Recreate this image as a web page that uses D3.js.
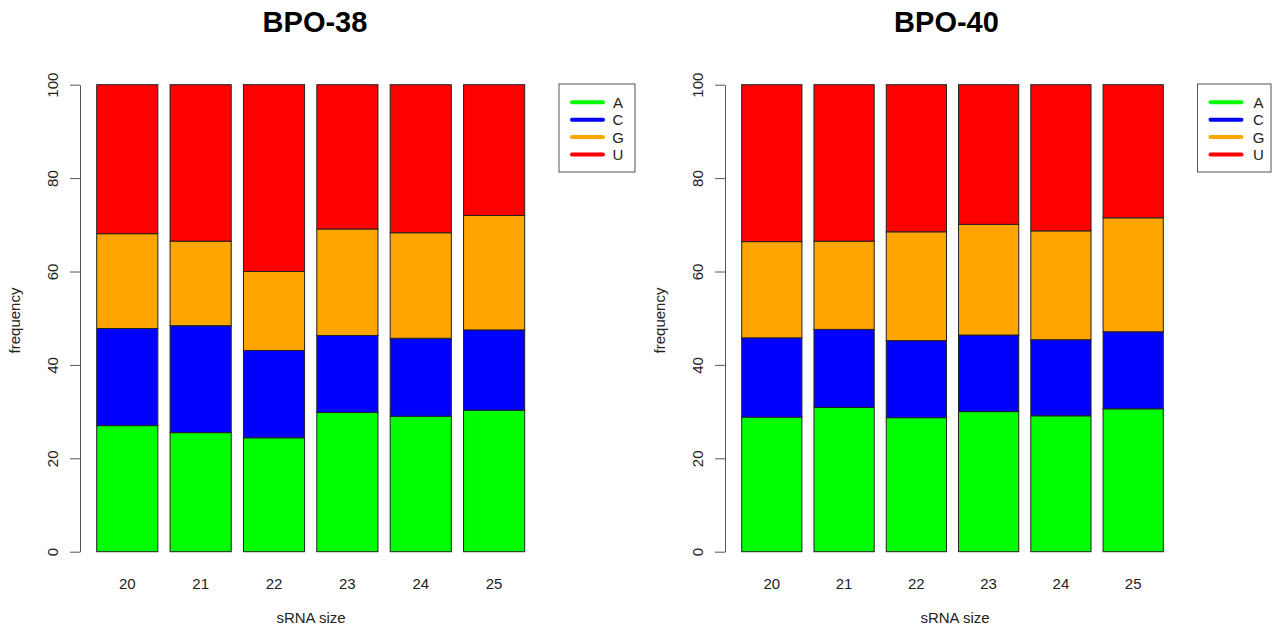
<!DOCTYPE html>
<html><head><meta charset="utf-8">
<script src="https://cdn.jsdelivr.net/npm/d3@7"></script>
<style>body{margin:0;background:#fff}svg{display:block}text{font-family:"Liberation Sans",Arial,sans-serif}</style>
</head><body>
<svg id="c" width="1278" height="628"></svg>
<script>
const sizes = ["20","21","22","23","24","25"];
const bases = ["A","C","G","U"];
const colors = ["#00ff00","#0000ff","#ffa500","#ff0000"];
const yTicks = [0,20,40,60,80,100];
// BPO-38 composition (%) per size
const bpo38_A = [27.0,25.5,24.4,29.8,29.0,30.3];
const bpo38_C = [20.8,22.9,18.7,16.5,16.7,17.2];
const bpo38_G = [20.3,18.1,16.9,22.8,22.6,24.5];
const bpo38_U = [31.9,33.5,40.0,30.9,31.7,28.0];
// BPO-40 composition (%) per size
const bpo40_A = [28.8,30.9,28.7,30.0,29.1,30.6];
const bpo40_C = [17.0,16.7,16.5,16.4,16.3,16.5];
const bpo40_G = [20.6,18.9,23.3,23.7,23.3,24.4];
const bpo40_U = [33.6,33.5,31.5,29.9,31.3,28.5];

const svg = d3.select("#c");
const FS = 15;

function panel(title, A, C, G, U, cfg){
  const rows = sizes.map((s,i)=>({size:s, A:A[i], C:C[i], G:G[i], U:U[i]}));
  const stack = d3.stack().keys(bases)(rows);
  const x = d3.scaleBand().domain(sizes).range([cfg.x0, cfg.x1]).paddingInner(0.2/1.2).paddingOuter(0);
  const y = d3.scaleLinear().domain([0,100]).range([551.7, 84.7]);
  const g = svg.append("g");
  g.selectAll("g.s").data(stack).join("g").attr("fill",(d,i)=>colors[i])
    .selectAll("rect").data(d=>d).join("rect")
    .attr("x",d=>x(d.data.size)).attr("width",x.bandwidth())
    .attr("y",d=>y(d[1])).attr("height",d=>y(d[0])-y(d[1]))
    .attr("stroke","#222").attr("stroke-width",1);
  // y axis
  const ya = g.append("g").attr("transform",`translate(${cfg.ax},0)`)
    .call(d3.axisLeft(y).tickValues(yTicks).tickSize(10).tickSizeOuter(0));
  ya.select(".domain").attr("stroke","#555");
  ya.selectAll(".tick line").attr("stroke","#555");
  ya.selectAll(".tick text").attr("font-size",FS).attr("fill","#222")
    .attr("text-anchor","middle").attr("x",null).attr("dy",null)
    .attr("transform",`translate(${cfg.labx-cfg.ax},0) rotate(-90)`).attr("y",0);
  // x labels
  g.selectAll("text.xl").data(sizes).join("text").attr("class","xl")
    .attr("x",d=>x(d)+x.bandwidth()/2).attr("y",589).attr("text-anchor","middle")
    .attr("font-size",FS).attr("fill","#222").text(d=>d);
  g.append("text").attr("x",cfg.xlabx).attr("y",623).attr("text-anchor","middle")
    .attr("font-size",FS).attr("fill","#222").text("sRNA size");
  g.append("text").attr("transform",`translate(${cfg.ylabx},320.5) rotate(-90)`).attr("text-anchor","middle")
    .attr("font-size",FS).attr("fill","#222").text("frequency");
  g.append("text").attr("x",cfg.tx).attr("y",32).attr("text-anchor","middle")
    .attr("font-size",29).attr("font-weight","bold").attr("fill","#000").text(title);
  // legend
  const L = cfg.leg;
  g.append("rect").attr("x",L.x).attr("y",84).attr("width",L.w).attr("height",88)
    .attr("fill","#fff").attr("stroke","#555");
  const li = g.selectAll("g.li").data(bases).join("g").attr("class","li")
    .attr("transform",(d,i)=>`translate(0,${102.3+i*17.4})`);
  li.append("line").attr("x1",L.x+13).attr("x2",L.x+44).attr("stroke",(d,i)=>colors[i])
    .attr("stroke-width",4).attr("stroke-linecap","round");
  li.append("text").attr("x",L.x+L.tx).attr("y",0).attr("dy","0.36em").attr("text-anchor","middle")
    .attr("font-size",FS).attr("fill","#222").text(d=>d);
}

panel("BPO-38", bpo38_A, bpo38_C, bpo38_G, bpo38_U,
  {x0:96.7, x1:524.7, ax:80, labx:58, xlabx:311, ylabx:20, tx:315, leg:{x:559, w:76, tx:59}});
panel("BPO-40", bpo40_A, bpo40_C, bpo40_G, bpo40_U,
  {x0:741.7, x1:1163.3, ax:725, labx:703, xlabx:955, ylabx:665, tx:946.5, leg:{x:1197.5, w:73.5, tx:61}});
</script>
</body></html>
